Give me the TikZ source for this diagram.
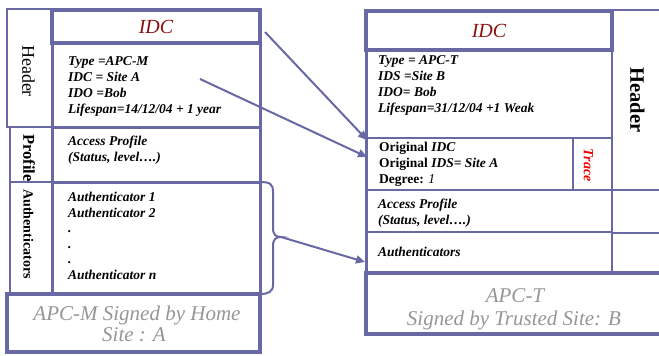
\documentclass[tikz,border=0pt]{standalone}
\usepackage{fontspec}
\setmainfont{Liberation Serif}
\usetikzlibrary{arrows.meta,fit}
\definecolor{frame}{RGB}{104,104,164}
\definecolor{idcred}{RGB}{140,16,16}
\definecolor{signgray}{RGB}{150,150,150}
\definecolor{tracered}{RGB}{235,0,0}
\begin{document}
\begin{tikzpicture}[x=1pt,y=-1pt,
  labelcell/.style={draw=frame,line width=2pt,inner sep=0pt,outer sep=0pt,fit={#1}},
  maincell/.style={draw=frame,line width=3pt,inner sep=0pt,outer sep=0pt,fit={#1}},
  heavycell/.style={draw=frame,line width=4pt,inner sep=0pt,outer sep=0pt,fit={#1}},
  rcell/.style={draw=frame,line width=1.8pt,inner sep=0pt,outer sep=0pt,fit={#1}},
  % multi-line blocks are placed by the baseline of their last line
  body/.style={inner sep=0pt,anchor=base west,align=left,font=\fontsize{13.5}{16}\selectfont\bfseries\itshape},
  idc/.style={font=\fontsize{20}{20}\selectfont\itshape,text=idcred},
  sign/.style={inner sep=0pt,anchor=base,font=\fontsize{21}{21}\selectfont\itshape,text=signgray},
  sidelabel/.style={rotate=-90,inner sep=0pt},
  link/.style={draw=frame,line width=2pt,-{Triangle[length=9pt,width=8pt]}},
  bracepath/.style={draw=frame,line width=2pt}]
\useasboundingbox (0,0) rectangle (659,356);
\clip (0,0) rectangle (659,356);

% ---- APC-M card (left) ----
\node[labelcell={(7,9)(52,127)}] (lhdrlab) {};
\node[labelcell={(10,127)(52,182)}] (lproflab) {};
\node[labelcell={(10,182)(52,294)}] (lauthlab) {};
\node[maincell={(52,43)(260,127)}] (lhdr) {};
\node[maincell={(52,127)(260,182)}] (lprof) {};
\node[maincell={(52,182)(260,294)}] (lauth) {};
\node[heavycell={(52,10)(260,43)}] (lidc) {};
\node[heavycell={(7,294)(260,352)}] (lsign) {};

\node[idc] (lidctxt) at (lidc.center) {IDC};
\node[body] (lhdrtxt) at (68,113) {Type =APC-M\\IDC = Site A\\IDO =Bob\\Lifespan=14/12/04 + 1 year};
\node[body] (lproftxt) at (68,161) {Access Profile\\(Status, level….)};
\node[body,font=\fontsize{13.5}{15.5}\selectfont\bfseries\itshape] (lauthtxt) at (68,279)
  {Authenticator 1\\Authenticator 2\\.\\.\\.\\Authenticator n};
\node[sidelabel,font=\fontsize{18}{18}\selectfont] (lhdrlabtxt) at (28.5,71) {Header};
\node[sidelabel,font=\fontsize{16.5}{16.5}\selectfont\bfseries] (lproflabtxt) at (29,158) {Profile};
\node[sidelabel,font=\fontsize{14}{14}\selectfont\bfseries] (lauthlabtxt) at (28.5,234) {Authenticators};
\node[sign] (lsign1) at (137,320) {APC-M Signed by Home};
\node[sign] (lsign2) at (134,341) {Site : A};

% ---- APC-T card (right) ----
\node[rcell={(612,10)(672,190)}] (rhdrlab) {};
\node[rcell={(612,190)(672,233)}] (rprofside) {};
\node[rcell={(612,233)(672,273)}] (rauthside) {};
\node[rcell={(366,50)(612,138)}] (rhdr) {};
\node[rcell={(366,138)(573,190)}] (rorig) {};
\node[rcell={(573,138)(612,190)}] (rtrace) {};
\node[rcell={(366,190)(612,232)}] (rprof) {};
\node[rcell={(366,232)(612,273)}] (rauth) {};
\draw[frame,line width=3pt] (rhdr.north west) -- (rauth.south west);
\node[heavycell={(366,11)(612,50)}] (ridc) {};
\node[heavycell={(366,273)(672,334)}] (rsign) {};

\node[idc] (ridctxt) at (ridc.center) {IDC};
\node[body] (rhdrtxt) at (378,112) {Type = APC-T\\IDS =Site B\\IDO= Bob\\Lifespan=31/12/04 +1 Weak};
\node[body,font=\fontsize{13.5}{16}\selectfont] (rorigtxt) at (379,183)
  {\textbf{Original} \textbf{\textit{IDC}}\\\textbf{Original} \textbf{\textit{IDS= Site A}}\\\textbf{Degree:} \textit{1}};
\node[body] (rproftxt) at (378,224) {Access Profile\\(Status, level….)};
\node[body] (rauthtxt) at (378,256) {Authenticators};
\node[sidelabel,font=\fontsize{20.5}{20.5}\selectfont\bfseries] (rhdrlabtxt) at (637.5,100) {Header};
\node[sidelabel,font=\fontsize{14}{14}\selectfont\bfseries\itshape,text=tracered] (rtracetxt) at (588.5,165) {Trace};
\node[sign] (rsign1) at (515,302) {APC-T};
\node[sign] (rsign2) at (514,325) {Signed by Trusted Site: B};

% ---- links between the cards ----
\coordinate (idcfrom) at (265,32);
\coordinate (idcto) at (367,140);
\coordinate (sitefrom) at (200,79);
\coordinate (siteto) at (367,157);
\coordinate (bracetip) at (281,237);
\coordinate (authto) at (365,262);
\draw[link] (idcfrom) -- (idcto);
\draw[link] (sitefrom) -- (siteto);
\draw[bracepath] (lauth.north east) .. controls (270,182) and (273,184) .. (273,192)
  -- (273,228) .. controls (273,235) and (276,237) .. (bracetip)
  .. controls (276,237) and (273,239) .. (273,246)
  -- (273,285) .. controls (273,292) and (268,294) .. (lauth.south east);
\draw[link] (bracetip) -- (authto);
\end{tikzpicture}
\end{document}
